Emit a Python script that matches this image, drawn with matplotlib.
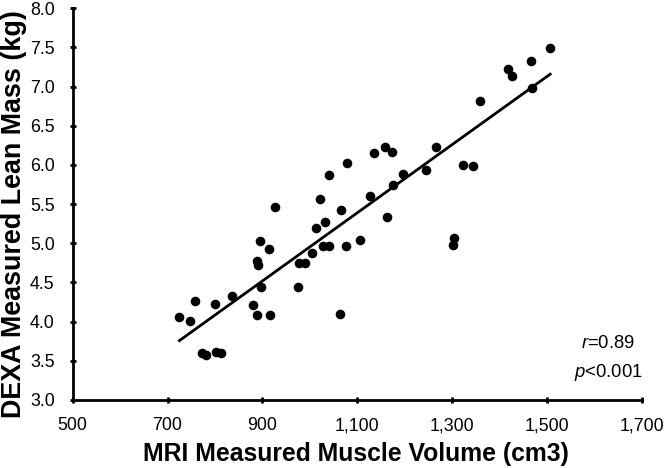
import numpy as np
import matplotlib
matplotlib.use("Agg")
import matplotlib.pyplot as plt
from matplotlib.ticker import FuncFormatter

mri_volume = [725, 747, 757, 773, 781, 800, 803, 812, 836, 881, 888, 888, 891, 895, 897,
              913, 917, 927, 976, 977, 990, 1005, 1013, 1021, 1027, 1032, 1040, 1040,
              1064, 1065, 1076, 1078, 1106, 1126, 1136, 1158, 1162, 1173, 1175, 1197,
              1245, 1266, 1302, 1304, 1323, 1344, 1359, 1417, 1426, 1466, 1468, 1507]
dexa_mass = [4.06, 4.01, 4.26, 3.60, 3.57, 4.22, 3.61, 3.60, 4.33, 4.21, 4.08, 4.77, 4.72,
             5.03, 4.44, 4.93, 4.08, 5.46, 4.44, 4.75, 4.75, 4.88, 5.20, 5.57, 4.97, 5.27,
             4.97, 5.87, 4.10, 5.43, 4.96, 6.03, 5.04, 5.61, 6.15, 6.23, 5.34, 6.16, 5.74,
             5.88, 5.93, 6.23, 4.98, 5.07, 6.00, 5.99, 6.82, 7.22, 7.14, 7.33, 6.98, 7.49]
x_ticks = [500, 700, 900, 1100, 1300, 1500, 1700]
y_ticks = [3.0, 3.5, 4.0, 4.5, 5.0, 5.5, 6.0, 6.5, 7.0, 7.5, 8.0]
stats_text = ["r=0.89", "p<0.001"]

plt.rcParams['font.family'] = ['Liberation Sans', 'DejaVu Sans']
plt.rcParams['mathtext.fontset'] = 'custom'
plt.rcParams['mathtext.it'] = 'Liberation Sans:italic'
plt.rcParams['mathtext.rm'] = 'Liberation Sans'

W, H = 665, 468
fig = plt.figure(figsize=(W / 100, H / 100), dpi=100)
left, right, top, bottom = 72.7, 641.7, 8.3, 400.0
ax = fig.add_axes([left / W, 1 - bottom / H, (right - left) / W, (bottom - top) / H])

x = np.array(mri_volume, dtype=float)
y = np.array(dexa_mass, dtype=float)
ax.scatter(x, y, s=48, color='black', zorder=3, linewidths=0)
slope, intercept = np.polyfit(x, y, 1)
xf = np.array([x.min(), x.max()])
ax.plot(xf, slope * xf + intercept, color='black', lw=2.0, zorder=2)

ax.set_xlim(500, 1700)
ax.set_ylim(3.0, 8.0)
ax.set_xticks(x_ticks)
ax.set_yticks(y_ticks)
ax.xaxis.set_major_formatter(FuncFormatter(lambda v, p: f"{int(v):,}"))
ax.yaxis.set_major_formatter(FuncFormatter(lambda v, p: f"{v:.1f}"))
for s in ['top', 'right']:
    ax.spines[s].set_visible(False)
for s in ['left', 'bottom']:
    ax.spines[s].set_linewidth(2.0)
ax.tick_params(axis='both', direction='inout', length=5, width=2.0, labelsize=12.8,
               colors='black')
ax.tick_params(axis='x', pad=10.0)
ax.tick_params(axis='y', pad=10.5)

fig.text(356 / W, (H - 461.5) / H, "MRI Measured Muscle Volume (cm3)", fontsize=17.8,
         fontweight='bold', ha='center', va='baseline')
fig.text(1.0 / W, 1 - 10 / H, "DEXA Measured Lean Mass (kg)", fontsize=19.4,
         fontweight='bold', ha='left', va='top', rotation=90)

ax.text(0.988, 0.143, r"$\it{r}$" + stats_text[0][1:], transform=ax.transAxes, ha='right',
        va='center', fontsize=13.3)
ax.text(1.002, 0.069, r"$\it{p}$" + stats_text[1][1:], transform=ax.transAxes, ha='right',
        va='center', fontsize=13.3)

fig.savefig("out.png", dpi=100)
